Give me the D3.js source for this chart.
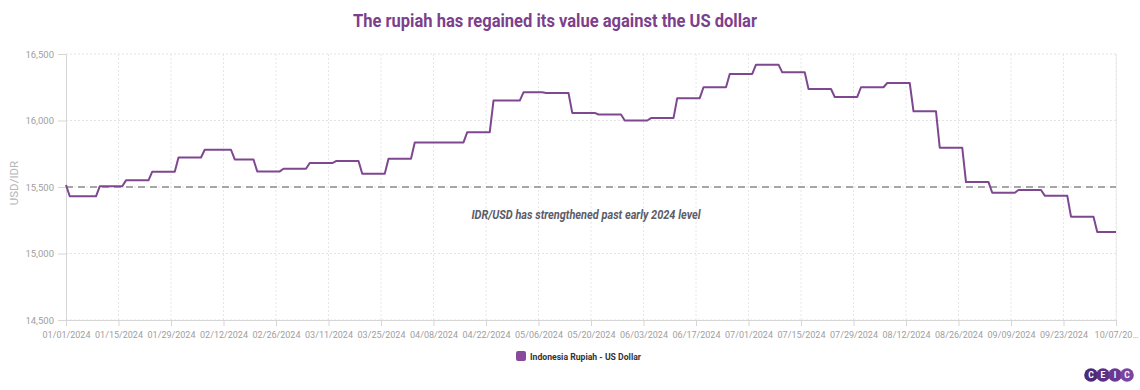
<!DOCTYPE html>
<html><head><meta charset="utf-8">
<script src="https://cdn.jsdelivr.net/npm/d3@7"></script>
<style>body{margin:0;background:#fff;} svg{display:block;font-family:Roboto, "Noto Sans", sans-serif;}</style>
</head><body><svg id="c" width="1140" height="390"></svg>
<script>
const chartTitle = "The rupiah has regained its value against the US dollar";
const seriesName = "Indonesia Rupiah - US Dollar";
const yAxisTitle = "USD/IDR";
const annotationText = "IDR/USD has strengthened past early 2024 level";
const referenceLevel = 15500;
const periodStart = ["2024-01-01","2024-01-02","2024-01-10","2024-01-17","2024-01-24","2024-01-31","2024-02-07","2024-02-15","2024-02-21","2024-02-28",
  "2024-03-06","2024-03-13","2024-03-20","2024-03-27","2024-04-03","2024-04-17","2024-04-24","2024-05-02","2024-05-08","2024-05-15",
  "2024-05-22","2024-05-29","2024-06-05","2024-06-12","2024-06-19","2024-06-26","2024-07-03","2024-07-10","2024-07-17","2024-07-24",
  "2024-07-31","2024-08-07","2024-08-14","2024-08-21","2024-08-28","2024-09-04","2024-09-11","2024-09-18","2024-09-25","2024-10-02"];
const periodValue = [15515,15430,15505,15550,15615,15722,15780,15707,15617,15637,
  15680,15695,15600,15712,15835,15912,16150,16212,16207,16057,
  16045,16000,16018,16168,16250,16350,16420,16362,16237,16177,
  16250,16282,16069,15795,15537,15457,15477,15435,15277,15162];
const endDate = "2024-10-07";
const xTickLabels = ["01/01/2024","01/15/2024","01/29/2024","02/12/2024","02/26/2024","03/11/2024","03/25/2024","04/08/2024","04/22/2024","05/06/2024",
  "05/20/2024","06/03/2024","06/17/2024","07/01/2024","07/15/2024","07/29/2024","08/12/2024","08/26/2024","09/09/2024","09/23/2024","10/07/2024"];
const yTicks = [14500,15000,15500,16000,16500];
const logoLetters = ["C","E","I","C"];

const svg = d3.select("#c");
const parseD = d3.utcParse("%Y-%m-%d");
const parseT = d3.utcParse("%m/%d/%Y");
const L = 66, R = 1116, T = 54, B = 320;
const x = d3.scaleUtc().domain([parseD(periodStart[0]), parseD(endDate)]).range([L, R]);
const y = d3.scaleLinear().domain([14500, 16500]).range([B, T]);
const lineColor = "#7e4790";

// gridlines
const tickDates = xTickLabels.map(parseT);
svg.append("g").selectAll("line").data(yTicks).join("line")
  .attr("x1", L).attr("x2", R).attr("y1", d => y(d)).attr("y2", d => y(d))
  .attr("stroke", "#e3e3e3").attr("stroke-dasharray", "2,2");
svg.append("g").selectAll("line").data(tickDates.slice(1)).join("line")
  .attr("x1", d => x(d)).attr("x2", d => x(d)).attr("y1", T).attr("y2", B)
  .attr("stroke", "#e6e6e6").attr("stroke-dasharray", "2,2");

// right border
svg.append("line").attr("x1", R + 0.5).attr("x2", R + 0.5).attr("y1", T).attr("y2", B).attr("stroke", "#ececec");

// y axis
const yAx = svg.append("g").attr("transform", `translate(${L},0)`)
  .call(d3.axisLeft(y).tickValues(yTicks).tickSize(8).tickPadding(4).tickFormat(d3.format(",")));
yAx.select(".domain").attr("stroke", "#d6d6d6");
yAx.selectAll(".tick line").attr("stroke", "#d6d6d6");
yAx.selectAll("text").attr("fill", "#a0a0a0").attr("font-size", 9.5).attr("font-family", "Roboto");

// x axis
const xAx = svg.append("g").attr("transform", `translate(0,${B})`)
  .call(d3.axisBottom(x).tickValues(tickDates).tickSize(6).tickPadding(6).tickFormat((d, i) => xTickLabels[i]));
xAx.select(".domain").attr("stroke", "#d6d6d6");
xAx.selectAll(".tick line").attr("stroke", "#d6d6d6");
xAx.selectAll("text").attr("fill", "#a0a0a0").attr("font-size", 9).attr("font-family", "Roboto");
xAx.selectAll("text").each(function () {
  const t = d3.select(this);
  const full = t.text();
  const tx = +d3.select(this.parentNode).attr("transform").match(/translate\(([^,]+)/)[1];
  let s = full;
  while (tx + this.getComputedTextLength() / 2 > 1139 && s.length > 1) {
    s = s.slice(0, -1);
    t.text(s + "…");
  }
});

// y axis title
svg.append("text").attr("transform", `translate(18,${(T + B) / 2 - 4}) rotate(-90)`)
  .attr("text-anchor", "middle").attr("fill", "#b5b5b5").attr("font-size", 11.5).text(yAxisTitle);

// reference line
svg.append("line").attr("x1", L).attr("x2", R).attr("y1", y(referenceLevel)).attr("y2", y(referenceLevel))
  .attr("stroke", "#8c8c8c").attr("stroke-width", 1.3).attr("stroke-dasharray", "7,5");

// series line
const pts = [];
periodStart.forEach((s, i) => {
  const d0 = parseD(s);
  const d1 = i < periodStart.length - 1 ? d3.utcDay.offset(parseD(periodStart[i + 1]), -1) : parseD(endDate);
  pts.push([d0, periodValue[i]]);
  if (+d1 > +d0) pts.push([d1, periodValue[i]]);
});
svg.append("path").datum(pts)
  .attr("d", d3.line().x(d => x(d[0])).y(d => y(d[1])))
  .attr("fill", "none").attr("stroke", lineColor).attr("stroke-width", 2).attr("stroke-linejoin", "round");

// annotation
svg.append("text").attr("x", 586).attr("y", 219).attr("text-anchor", "middle")
  .attr("font-style", "italic").attr("font-weight", 700).attr("font-size", 12).attr("fill", "#5c5c68")
  .attr("textLength", 229).attr("lengthAdjust", "spacingAndGlyphs").text(annotationText);

// title
svg.append("text").attr("x", 555).attr("y", 26.5).attr("text-anchor", "middle")
  .attr("font-weight", 700).attr("font-size", 18).attr("fill", "#7d3f8c")
  .attr("textLength", 404).attr("lengthAdjust", "spacingAndGlyphs").text(chartTitle);

// legend
const lg = svg.append("g");
lg.append("rect").attr("x", 516).attr("y", 351).attr("width", 10).attr("height", 10).attr("rx", 2).attr("fill", "#8a4a9c");
lg.append("text").attr("x", 530).attr("y", 359.5).attr("font-size", 9.5).attr("font-weight", 700).attr("fill", "#333")
  .attr("textLength", 111).attr("lengthAdjust", "spacingAndGlyphs").text(seriesName);

// logo
const logoColors = ["#4a2a79", "#5a3086", "#6a3892", "#7b459f"];
const lgo = svg.append("g");
logoLetters.forEach((c, i) => {
  const cx = 1091 + i * 12;
  lgo.append("circle").attr("cx", cx).attr("cy", 375).attr("r", 6.8).attr("fill", logoColors[i]);
  lgo.append("text").attr("x", cx).attr("y", 378).attr("text-anchor", "middle").attr("font-size", 8.5)
    .attr("font-weight", 700).attr("fill", "#fff").text(c);
});
</script></body></html>
